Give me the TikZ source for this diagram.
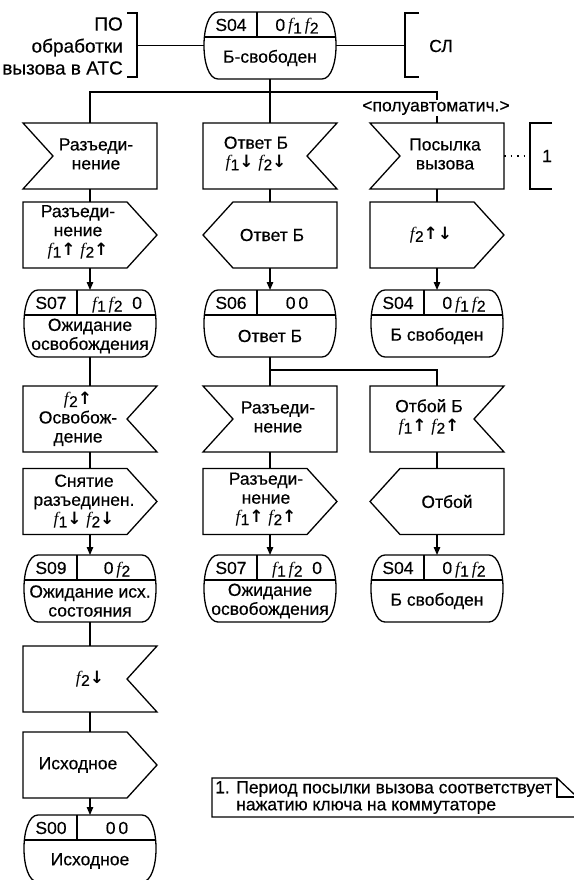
\documentclass[tikz,border=0pt]{standalone}
\usepackage{fontspec}
\setmainfont{Liberation Sans}[FakeBold=0.4]
\newfontfamily\serf{Liberation Serif}
\newfontfamily\arf{DejaVu Sans}
\usetikzlibrary{arrows.meta}
\newcommand\ft{\fontsize{17.5}{19}\selectfont}
\newcommand\fs[1]{{\serf\itshape f}\kern0.3pt\raisebox{-2.5pt}{\fontsize{15.5}{15.5}\selectfont #1}}
\newcommand\upa{{\arf\bfseries\fontsize{17}{17}\selectfont ↑}}
\newcommand\dna{{\arf\bfseries\fontsize{17}{17}\selectfont ↓}}
\newcommand\fup[1]{\fs{#1}\upa}
\newcommand\fdn[1]{\fs{#1}\dna}
\def\dep{30pt}
\newcommand\shInL[1]{\draw[shp] (#1.north west) -- (#1.north east) -- (#1.south east) -- (#1.south west) -- ([xshift=\dep]#1.west) -- cycle;}
\newcommand\shInR[1]{\draw[shp] (#1.north west) -- (#1.north east) -- ([xshift=-\dep]#1.east) -- (#1.south east) -- (#1.south west) -- cycle;}
\newcommand\shOutR[1]{\draw[shp] (#1.north west) -- ([xshift=-\dep]#1.north east) -- (#1.east) -- ([xshift=-\dep]#1.south east) -- (#1.south west) -- cycle;}
\newcommand\shOutL[1]{\draw[shp] ([xshift=\dep]#1.north west) -- (#1.north east) -- (#1.south east) -- ([xshift=\dep]#1.south west) -- (#1.west) -- cycle;}
% name, x, y, shape, dx, dy, text
\newcommand\bx[7]{%
  \node[box] (#1) at (#2,#3) {};
  #4{#1}
  \node[txt] at ([xshift=#5pt,yshift=#6pt]#1.center) {#7};
}
% name, x, y, id, code, title
\newcommand\stt[6]{%
  \node[stn] (#1) at (#2,#3) {};
  \draw[shp] ([xshift=14pt]#1.north west) -- ([xshift=-14pt]#1.north east)
    .. controls ([xshift=4.7pt]#1.north east) and ([xshift=4.7pt]#1.south east) .. ([xshift=-14pt]#1.south east)
    -- ([xshift=14pt]#1.south west)
    .. controls ([xshift=-4.7pt]#1.south west) and ([xshift=-4.7pt]#1.north west) .. ([xshift=14pt]#1.north west) -- cycle;
  \draw[shp] ([yshift=-25pt]#1.north west) -- ([yshift=-25pt]#1.north east);
  \draw[shp] ([xshift=53pt]#1.north west) -- ([xshift=53pt,yshift=-25pt]#1.north west);
  \node[txt,anchor=base] at ([xshift=27pt,yshift=-19pt]#1.north west) {#4};
  \node[txt,anchor=base] at ([xshift=93pt,yshift=-19pt]#1.north west) {#5};
  \node[txt] at ([yshift=21pt]#1.south) {#6};
}
\begin{document}
\begin{tikzpicture}[x=1pt,y=-1pt,
  shp/.style={line width=1.3pt,line join=miter},
  ln/.style={line width=1.3pt},
  arr/.style={line width=1.3pt,-{Triangle[length=8pt,width=6.5pt]}},
  box/.style={minimum width=134pt,minimum height=66pt,inner sep=0pt,outer sep=0pt},
  stn/.style={minimum width=132pt,minimum height=67pt,inner sep=0pt,outer sep=0pt},
  txt/.style={inner sep=0pt,align=center,font=\ft}]
\useasboundingbox (0,0) rectangle (573,880);

% ---- top
\stt{T}{270}{45.5}{S04}{0\,\fs1\,\fs2}{Б-свободен}
\node[txt,anchor=east,align=right,font=\fontsize{19}{22}\selectfont] (po) at (123,46) {ПО\\обработки\\вызова в АТС};
\draw[ln] (127,13) -- (137,13) -- (137,77) -- (127,77);
\coordinate (pob) at (137,45.5);
\draw[ln] (pob) -- (T.west);
\draw[ln] (419,13) -- (405,13) -- (405,77) -- (419,77);
\coordinate (slb) at (405,45.5);
\draw[ln] (T.east) -- (slb);
\node[txt] (sl) at (441,46) {СЛ};
\coordinate (bus) at (270,92);

% ---- row 1
\bx{l1}{90}{156}{\shInL}{6}{2}{Разъеди-\\нение}
\bx{m1}{270}{156}{\shInR}{-14}{2}{Ответ Б\\\fdn1\;\fdn2}
\bx{r1}{437}{156}{\shInL}{8}{2}{Посылка\\вызова}
\draw[ln] (T.south) -- (m1.north);
\draw[ln] (l1.north) |- (bus) -| (r1.north);
\node[txt,fill=white,inner sep=1pt] (pa) at (436,108) {<полуавтоматич.>};
\coordinate (nb) at (530,156);
\draw[ln,dash pattern=on 1.5pt off 5pt] (r1.east) -- (nb);
\draw[ln] (552,123) -- (530,123) -- (530,189) -- (552,189);
\node[txt] (n1) at (547,156) {1};

% ---- row 2
\bx{l2}{90}{235}{\shOutR}{-12}{3}{Разъеди-\\нение\\\fup1\;\fup2}
\bx{m2}{270}{235}{\shOutL}{2}{0}{Ответ Б}
\bx{r2}{437}{235}{\shOutR}{-6}{0}{\fs2\upa\dna}
\draw[ln] (l1.south) -- (l2.north);
\draw[ln] (m1.south) -- (m2.north);
\draw[ln] (r1.south) -- (r2.north);

% ---- states A
\stt{ls1}{90}{323.5}{S07}{\fs1\,\fs2\;\;0}{Ожидание\\освобождения}
\stt{ms1}{270}{323.5}{S06}{0\,0}{Ответ Б}
\stt{rs1}{437}{323.5}{S04}{0\,\fs1\,\fs2}{Б свободен}
\draw[arr] (l2.south) -- (ls1.north);
\draw[arr] (m2.south) -- (ms1.north);
\draw[arr] (r2.south) -- (rs1.north);

% ---- row 3
\bx{l3}{90}{419}{\shInR}{-12}{0}{\fup2\\Освобож-\\дение}
\bx{m3}{270}{419}{\shInL}{8}{2}{Разъеди-\\нение}
\bx{r3}{437}{419}{\shInR}{-8}{2}{Отбой Б\\\fup1\;\fup2}
\coordinate (br) at (270,370);
\draw[ln] (ls1.south) -- (l3.north);
\draw[ln] (ms1.south) -- (m3.north);
\draw[ln] (br) -| (r3.north);

% ---- row 4
\bx{l4}{90}{501.5}{\shOutR}{-6}{0}{Снятие\\разъединен.\\\fdn1\;\fdn2}
\bx{m4}{270}{501.5}{\shOutR}{-4}{2}{Разъеди-\\нение\\\fup1\;\fup2}
\bx{r4}{437}{501.5}{\shOutL}{10}{0}{Отбой}
\draw[ln] (l3.south) -- (l4.north);
\draw[ln] (m3.south) -- (m4.north);
\draw[ln] (r3.south) -- (r4.north);

% ---- states B
\stt{ls2}{90}{588.5}{S09}{0\,\fs2}{Ожидание исх.\\состояния}
\stt{ms2}{270}{588.5}{S07}{\fs1\,\fs2\;\;0}{Ожидание\\освобождения}
\stt{rs2}{437}{588.5}{S04}{0\,\fs1\,\fs2}{Б свободен}
\draw[arr] (l4.south) -- (ls2.north);
\draw[arr] (m4.south) -- (ms2.north);
\draw[arr] (r4.south) -- (rs2.north);

% ---- left tail
\bx{l5}{90}{679}{\shInR}{0}{0}{\fdn2}
\bx{l6}{90}{765}{\shOutR}{-12}{0}{Исходное}
\stt{ls3}{90}{848.5}{S00}{0\,0}{Исходное}
\draw[ln] (ls2.south) -- (l5.north);
\draw[ln] (l5.south) -- (l6.north);
\draw[arr] (l6.south) -- (ls3.north);

% ---- note
\draw[ln] (575,795) -- (575,817) -- (212,817) -- (212,778) -- (557,778) -- (575,795);
\draw[ln] (557,778) -- (557,797) -- (575,797);
\node[txt,anchor=north west,align=left,font=\fontsize{17.5}{17}\selectfont] (note) at (215,781) {1. Период посылки вызова соответствует\\\phantom{1. }нажатию ключа на коммутаторе};
\end{tikzpicture}
\end{document}
